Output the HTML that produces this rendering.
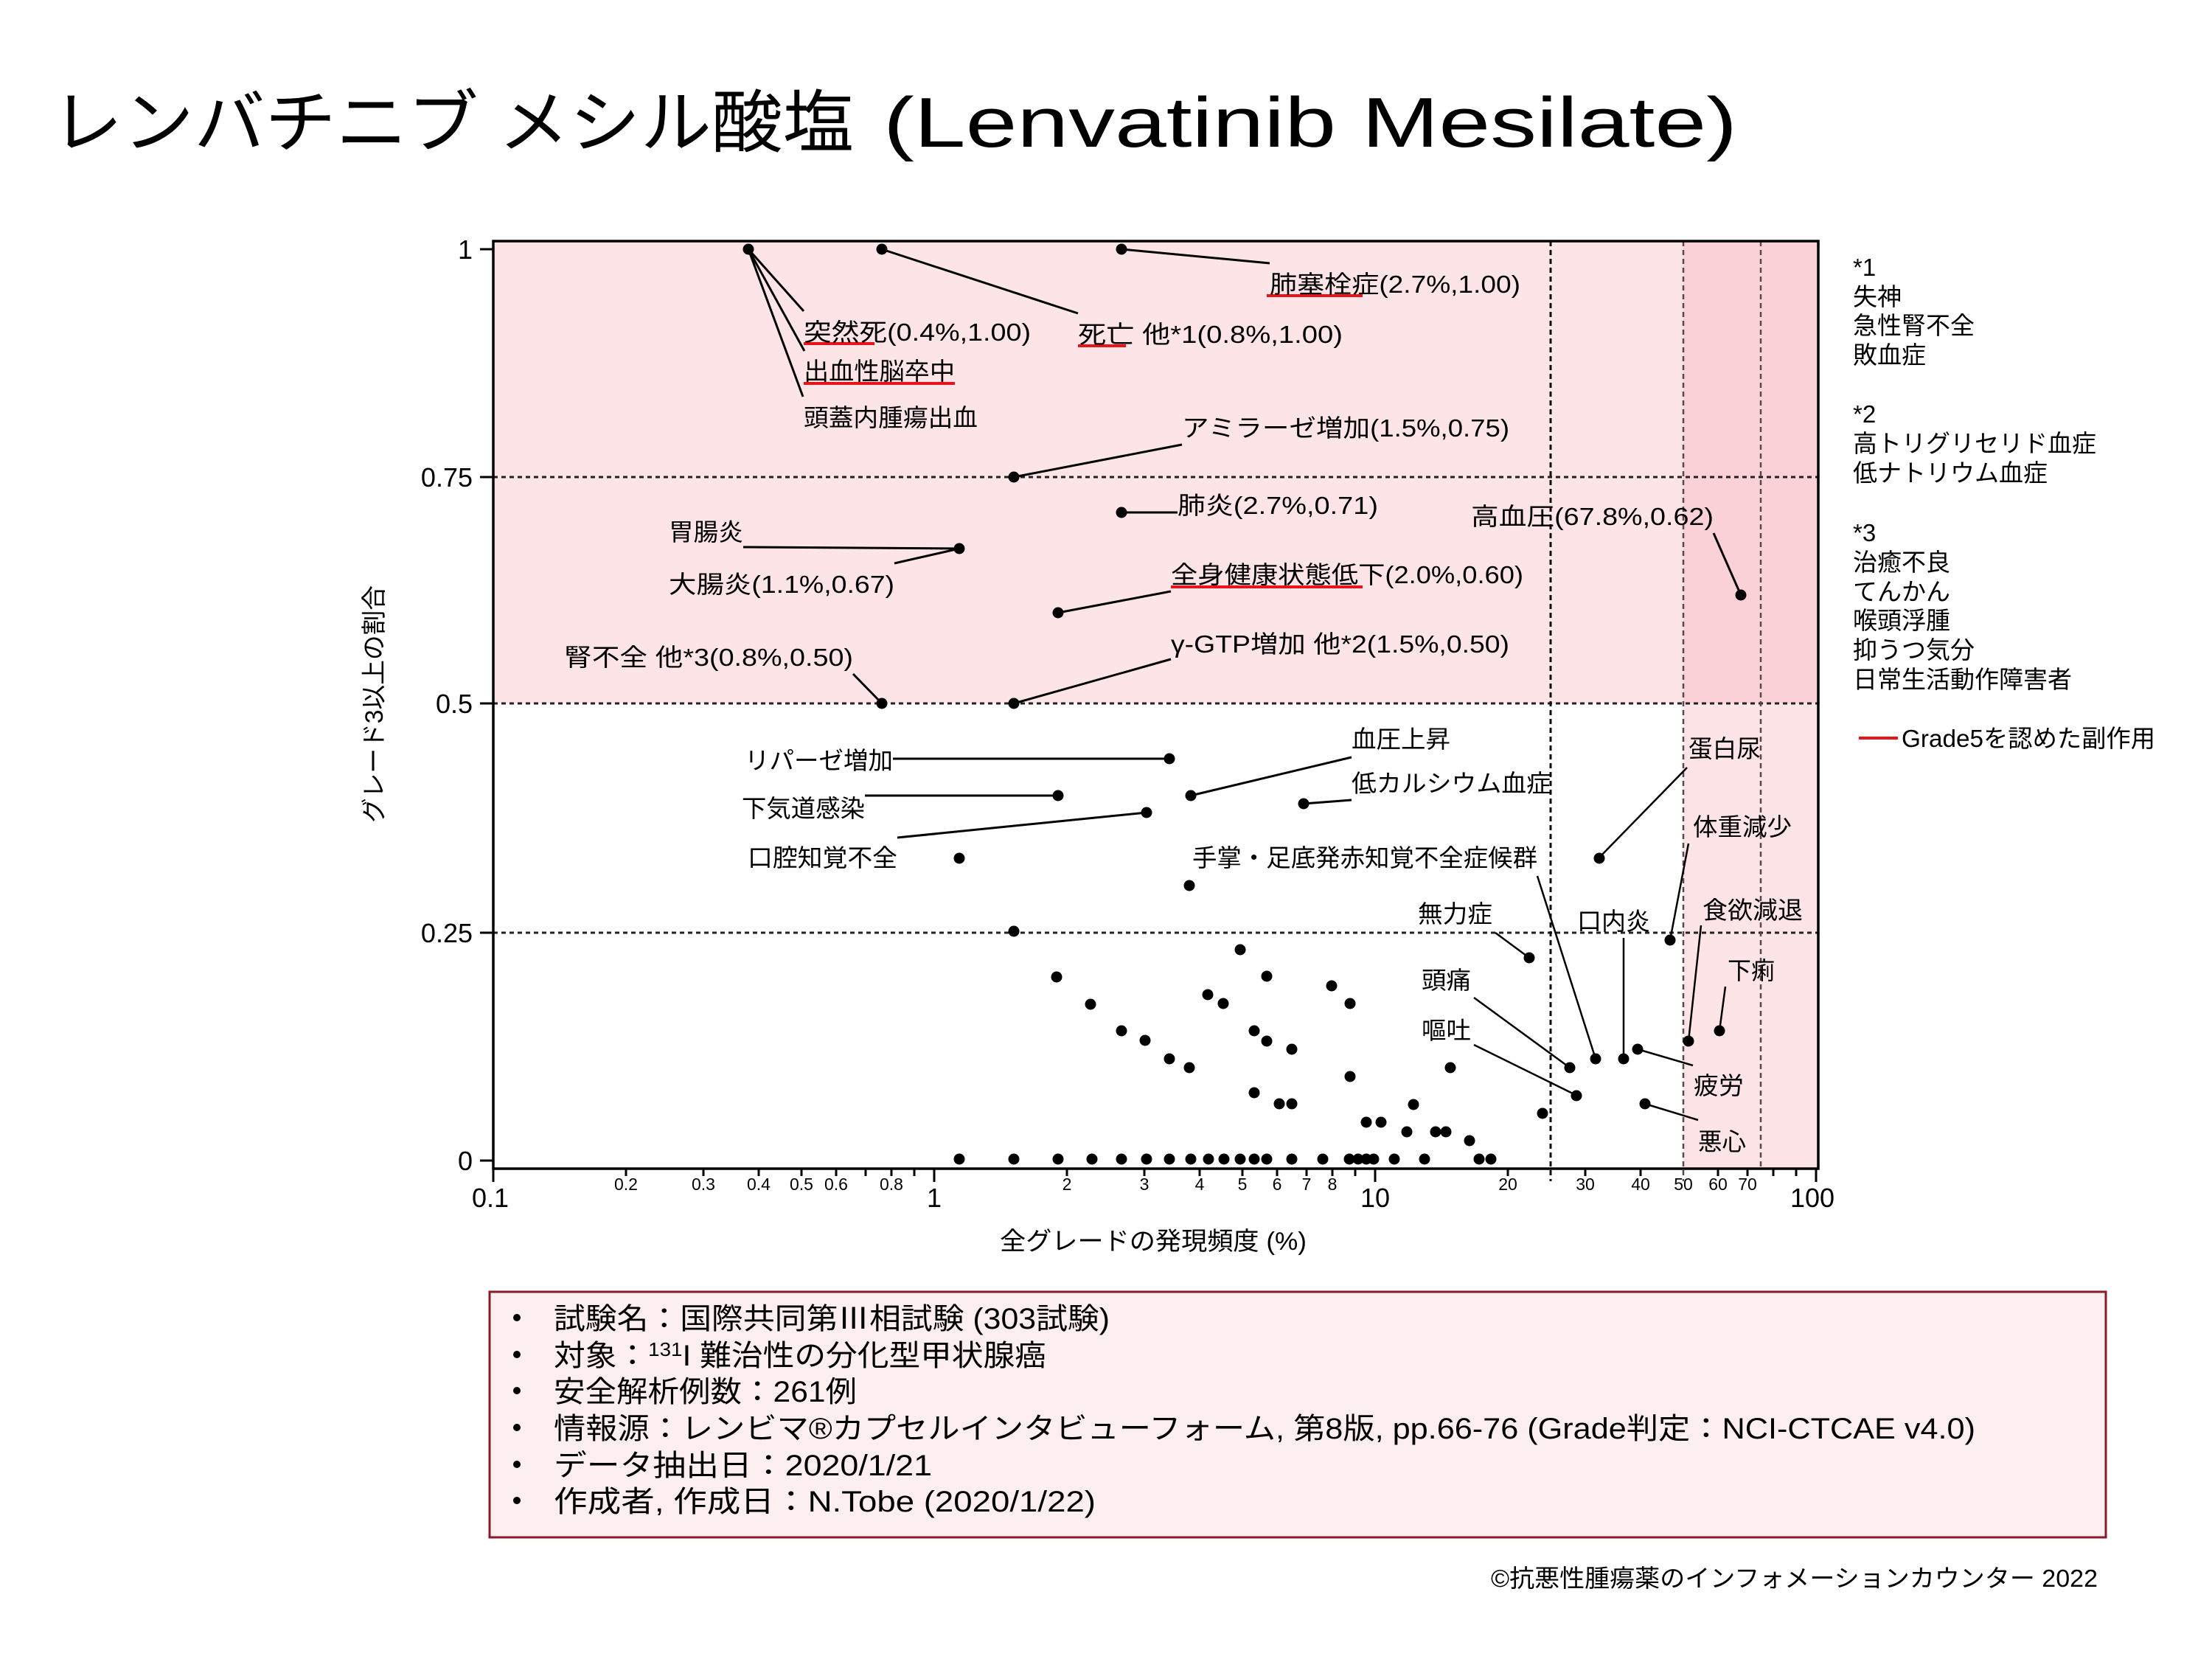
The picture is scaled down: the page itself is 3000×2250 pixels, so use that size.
<!DOCTYPE html>
<html>
<head>
<meta charset="utf-8">
<style>
  html,body{margin:0;padding:0;background:#fff;}
  svg{display:block;}
  text{font-family:"Liberation Sans","Noto Sans CJK JP",sans-serif;fill:#000;}
</style>
</head>
<body>
<svg width="3000" height="2250" viewBox="0 0 3000 2250" xmlns="http://www.w3.org/2000/svg">
  <rect x="0" y="0" width="3000" height="2250" fill="#ffffff"/>

  <!-- Title -->
  <text x="70" y="199" font-size="93" textLength="1088" lengthAdjust="spacingAndGlyphs">レンバチニブ メシル酸塩</text>
  <text x="1198" y="199" font-size="96" textLength="1158" lengthAdjust="spacingAndGlyphs">(Lenvatinib Mesilate)</text>

  <!-- Plot backgrounds -->
  <rect x="669" y="327" width="1614" height="627" fill="#fde4e7"/>
  <rect x="2283" y="327" width="183" height="627" fill="#fbd1d8"/>
  <rect x="2283" y="954" width="183" height="631" fill="#fde4e7"/>

  <!-- Horizontal dotted grid lines -->
  <g stroke="#222" stroke-width="3" stroke-dasharray="6 5">
    <line x1="669" y1="647" x2="2466" y2="647"/>
    <line x1="669" y1="954" x2="2466" y2="954"/>
    <line x1="669" y1="1265" x2="2466" y2="1265"/>
  </g>
  <!-- Vertical dashed lines -->
  <line x1="2103" y1="327" x2="2103" y2="1602" stroke="#111" stroke-width="3" stroke-dasharray="7 5"/>
  <line x1="2283" y1="327" x2="2283" y2="1602" stroke="#5a474c" stroke-width="2.5" stroke-dasharray="7 5"/>
  <line x1="2388" y1="327" x2="2388" y2="1585" stroke="#5a474c" stroke-width="2.5" stroke-dasharray="7 5"/>

  <!-- Frame -->
  <rect x="669" y="327" width="1797" height="1258" fill="none" stroke="#000" stroke-width="3.5"/>

  <!-- Y ticks -->
  <g stroke="#000" stroke-width="3">
    <line x1="651" y1="338" x2="669" y2="338"/>
    <line x1="651" y1="647" x2="669" y2="647"/>
    <line x1="651" y1="954" x2="669" y2="954"/>
    <line x1="651" y1="1265" x2="669" y2="1265"/>
    <line x1="651" y1="1574" x2="669" y2="1574"/>
  </g>
  <g font-size="36" text-anchor="end">
    <text x="641" y="351">1</text>
    <text x="641" y="660">0.75</text>
    <text x="641" y="967">0.5</text>
    <text x="641" y="1278">0.25</text>
    <text x="641" y="1587">0</text>
  </g>

  <!-- X ticks -->
  <g stroke="#000" stroke-width="3">
    <line x1="669" y1="1585" x2="669" y2="1603"/>
    <line x1="1267" y1="1585" x2="1267" y2="1603"/>
    <line x1="1865" y1="1585" x2="1865" y2="1603"/>
    <line x1="2463" y1="1585" x2="2463" y2="1603"/>
    <line x1="849" y1="1585" x2="849" y2="1595"/>
    <line x1="954" y1="1585" x2="954" y2="1595"/>
    <line x1="1029" y1="1585" x2="1029" y2="1595"/>
    <line x1="1087" y1="1585" x2="1087" y2="1595"/>
    <line x1="1134" y1="1585" x2="1134" y2="1595"/>
    <line x1="1174" y1="1585" x2="1174" y2="1595"/>
    <line x1="1209" y1="1585" x2="1209" y2="1595"/>
    <line x1="1240" y1="1585" x2="1240" y2="1595"/>
    <line x1="1447" y1="1585" x2="1447" y2="1595"/>
    <line x1="1552" y1="1585" x2="1552" y2="1595"/>
    <line x1="1627" y1="1585" x2="1627" y2="1595"/>
    <line x1="1685" y1="1585" x2="1685" y2="1595"/>
    <line x1="1732" y1="1585" x2="1732" y2="1595"/>
    <line x1="1772" y1="1585" x2="1772" y2="1595"/>
    <line x1="1807" y1="1585" x2="1807" y2="1595"/>
    <line x1="1838" y1="1585" x2="1838" y2="1595"/>
    <line x1="2045" y1="1585" x2="2045" y2="1595"/>
    <line x1="2150" y1="1585" x2="2150" y2="1595"/>
    <line x1="2225" y1="1585" x2="2225" y2="1595"/>
    <line x1="2330" y1="1585" x2="2330" y2="1595"/>
    <line x1="2370" y1="1585" x2="2370" y2="1595"/>
    <line x1="2405" y1="1585" x2="2405" y2="1595"/>
    <line x1="2436" y1="1585" x2="2436" y2="1595"/>
  </g>
  <g font-size="36" text-anchor="middle">
    <text x="665" y="1637">0.1</text>
    <text x="1267" y="1637">1</text>
    <text x="1865" y="1637">10</text>
    <text x="2458" y="1637">100</text>
  </g>
  <g font-size="23" text-anchor="middle">
    <text x="849" y="1614">0.2</text>
    <text x="954" y="1614">0.3</text>
    <text x="1029" y="1614">0.4</text>
    <text x="1087" y="1614">0.5</text>
    <text x="1134" y="1614">0.6</text>
    <text x="1209" y="1614">0.8</text>
    <text x="1447" y="1614">2</text>
    <text x="1552" y="1614">3</text>
    <text x="1627" y="1614">4</text>
    <text x="1685" y="1614">5</text>
    <text x="1732" y="1614">6</text>
    <text x="1772" y="1614">7</text>
    <text x="1807" y="1614">8</text>
    <text x="2045" y="1614">20</text>
    <text x="2150" y="1614">30</text>
    <text x="2225" y="1614">40</text>
    <text x="2283" y="1614">50</text>
    <text x="2330" y="1614">60</text>
    <text x="2370" y="1614">70</text>
  </g>

  <!-- Axis titles -->
  <text x="1356" y="1695" font-size="34" textLength="416" lengthAdjust="spacingAndGlyphs">全グレードの発現頻度 (%)</text>
  <text transform="translate(519,955) rotate(-90)" x="0" y="0" font-size="34" text-anchor="middle" textLength="322" lengthAdjust="spacingAndGlyphs">グレード3以上の割合</text>

  <!-- Leader lines -->
  <g stroke="#000" stroke-width="3" fill="none">
    <line x1="1521" y1="338" x2="1722" y2="357"/>
    <line x1="1015" y1="338" x2="1090" y2="422"/>
    <line x1="1015" y1="338" x2="1091" y2="476"/>
    <line x1="1015" y1="338" x2="1089" y2="538"/>
    <line x1="1196" y1="338" x2="1462" y2="425"/>
    <line x1="1375" y1="647" x2="1603" y2="603"/>
    <line x1="1521" y1="695" x2="1597" y2="695"/>
    <line x1="2361" y1="807" x2="2324" y2="723"/>
    <line x1="1008" y1="742" x2="1301" y2="744"/>
    <line x1="1213" y1="764" x2="1301" y2="744"/>
    <line x1="1435" y1="831" x2="1588" y2="802"/>
    <line x1="1375" y1="954" x2="1588" y2="894"/>
    <line x1="1157" y1="914" x2="1196" y2="954"/>
    <line x1="1615" y1="1079" x2="1833" y2="1027"/>
    <line x1="1211" y1="1029" x2="1586" y2="1029"/>
    <line x1="1768" y1="1090" x2="1833" y2="1085"/>
    <line x1="1173" y1="1079" x2="1435" y2="1079"/>
    <line x1="1217" y1="1136" x2="1555" y2="1102"/>
  </g>
  <g stroke="#000" stroke-width="2.5" fill="none">
    <line x1="2085" y1="1188" x2="2164" y2="1436"/>
    <line x1="2288" y1="1041" x2="2169" y2="1163"/>
    <line x1="2290" y1="1144" x2="2265" y2="1275"/>
    <line x1="2307" y1="1255" x2="2290" y2="1412"/>
    <line x1="2028" y1="1265" x2="2074" y2="1299"/>
    <line x1="2202" y1="1272" x2="2202" y2="1436"/>
    <line x1="2340" y1="1338" x2="2332" y2="1398"/>
    <line x1="1999" y1="1353" x2="2129" y2="1448"/>
    <line x1="1999" y1="1417" x2="2137" y2="1485"/>
    <line x1="2221" y1="1423" x2="2296" y2="1445"/>
    <line x1="2231" y1="1497" x2="2303" y2="1519"/>
  </g>

  <!-- Red underlines (Grade 5) -->
  <g stroke="#e8141c" stroke-width="4">
    <line x1="1718" y1="401" x2="1848" y2="401"/>
    <line x1="1090" y1="466" x2="1186" y2="466"/>
    <line x1="1462" y1="469" x2="1527" y2="469"/>
    <line x1="1090" y1="520" x2="1295" y2="520"/>
    <line x1="1588" y1="796" x2="1848" y2="796"/>
  </g>

  <!-- Annotation labels -->
  <g font-size="33">
    <text x="1722" y="397" textLength="340" lengthAdjust="spacingAndGlyphs">肺塞栓症(2.7%,1.00)</text>
    <text x="1090" y="462" textLength="308" lengthAdjust="spacingAndGlyphs">突然死(0.4%,1.00)</text>
    <text x="1462" y="465" textLength="359" lengthAdjust="spacingAndGlyphs">死亡 他*1(0.8%,1.00)</text>
    <text x="1090" y="515" textLength="205" lengthAdjust="spacingAndGlyphs">出血性脳卒中</text>
    <text x="1090" y="578" textLength="236" lengthAdjust="spacingAndGlyphs">頭蓋内腫瘍出血</text>
    <text x="1603" y="592" textLength="444" lengthAdjust="spacingAndGlyphs">アミラーゼ増加(1.5%,0.75)</text>
    <text x="1597" y="697" textLength="272" lengthAdjust="spacingAndGlyphs">肺炎(2.7%,0.71)</text>
    <text x="1995" y="712" textLength="329" lengthAdjust="spacingAndGlyphs">高血圧(67.8%,0.62)</text>
    <text x="907" y="733" textLength="101" lengthAdjust="spacingAndGlyphs">胃腸炎</text>
    <text x="907" y="804" textLength="306" lengthAdjust="spacingAndGlyphs">大腸炎(1.1%,0.67)</text>
    <text x="1588" y="791" textLength="478" lengthAdjust="spacingAndGlyphs">全身健康状態低下(2.0%,0.60)</text>
    <text x="1588" y="885" textLength="459" lengthAdjust="spacingAndGlyphs">γ-GTP増加 他*2(1.5%,0.50)</text>
    <text x="765" y="903" textLength="392" lengthAdjust="spacingAndGlyphs">腎不全 他*3(0.8%,0.50)</text>
    <text x="1833" y="1014" textLength="134" lengthAdjust="spacingAndGlyphs">血圧上昇</text>
    <text x="1010" y="1043" textLength="201" lengthAdjust="spacingAndGlyphs">リパーゼ増加</text>
    <text x="1833" y="1074" textLength="271" lengthAdjust="spacingAndGlyphs">低カルシウム血症</text>
    <text x="1006" y="1108" textLength="167" lengthAdjust="spacingAndGlyphs">下気道感染</text>
    <text x="1014" y="1175" textLength="203" lengthAdjust="spacingAndGlyphs">口腔知覚不全</text>
    <text x="1617" y="1175" textLength="468" lengthAdjust="spacingAndGlyphs">手掌・足底発赤知覚不全症候群</text>
    <text x="2290" y="1027" textLength="98" lengthAdjust="spacingAndGlyphs">蛋白尿</text>
    <text x="2296" y="1133" textLength="134" lengthAdjust="spacingAndGlyphs">体重減少</text>
    <text x="2309" y="1246" textLength="136" lengthAdjust="spacingAndGlyphs">食欲減退</text>
    <text x="1923" y="1251" textLength="101" lengthAdjust="spacingAndGlyphs">無力症</text>
    <text x="2139" y="1261" textLength="99" lengthAdjust="spacingAndGlyphs">口内炎</text>
    <text x="2343" y="1328" textLength="64" lengthAdjust="spacingAndGlyphs">下痢</text>
    <text x="1928" y="1341" textLength="67" lengthAdjust="spacingAndGlyphs">頭痛</text>
    <text x="1928" y="1409" textLength="67" lengthAdjust="spacingAndGlyphs">嘔吐</text>
    <text x="2297" y="1484" textLength="68" lengthAdjust="spacingAndGlyphs">疲労</text>
    <text x="2303" y="1560" textLength="65" lengthAdjust="spacingAndGlyphs">悪心</text>
  </g>

  <!-- Data points -->
  <g fill="#000">
    <circle cx="1015" cy="338" r="7.5"/>
    <circle cx="1196" cy="338" r="7.5"/>
    <circle cx="1521" cy="338" r="7.5"/>
    <circle cx="1375" cy="647" r="7.5"/>
    <circle cx="1521" cy="695" r="7.5"/>
    <circle cx="1301" cy="744" r="7.5"/>
    <circle cx="1435" cy="831" r="7.5"/>
    <circle cx="2361" cy="807" r="7.5"/>
    <circle cx="1196" cy="954" r="7.5"/>
    <circle cx="1375" cy="954" r="7.5"/>
    <circle cx="1586" cy="1029" r="7.5"/>
    <circle cx="1435" cy="1079" r="7.5"/>
    <circle cx="1615" cy="1079" r="7.5"/>
    <circle cx="1768" cy="1090" r="7.5"/>
    <circle cx="1555" cy="1102" r="7.5"/>
    <circle cx="1301" cy="1164" r="7.5"/>
    <circle cx="2169" cy="1164" r="7.5"/>
    <circle cx="1613" cy="1201" r="7.5"/>
    <circle cx="1375" cy="1263" r="7.5"/>
    <circle cx="2265" cy="1275" r="7.5"/>
    <circle cx="1682" cy="1288" r="7.5"/>
    <circle cx="2074" cy="1299" r="7.5"/>
    <circle cx="1433" cy="1325" r="7.5"/>
    <circle cx="1718" cy="1324" r="7.5"/>
    <circle cx="1806" cy="1337" r="7.5"/>
    <circle cx="1638" cy="1349" r="7.5"/>
    <circle cx="1479" cy="1362" r="7.5"/>
    <circle cx="1659" cy="1361" r="7.5"/>
    <circle cx="1831" cy="1361" r="7.5"/>
    <circle cx="1521" cy="1398" r="7.5"/>
    <circle cx="1701" cy="1398" r="7.5"/>
    <circle cx="2332" cy="1398" r="7.5"/>
    <circle cx="1553" cy="1411" r="7.5"/>
    <circle cx="1718" cy="1412" r="7.5"/>
    <circle cx="2290" cy="1412" r="7.5"/>
    <circle cx="1752" cy="1423" r="7.5"/>
    <circle cx="2221" cy="1423" r="7.5"/>
    <circle cx="1586" cy="1436" r="7.5"/>
    <circle cx="2164" cy="1436" r="7.5"/>
    <circle cx="2202" cy="1436" r="7.5"/>
    <circle cx="1613" cy="1448" r="7.5"/>
    <circle cx="1967" cy="1448" r="7.5"/>
    <circle cx="2129" cy="1448" r="7.5"/>
    <circle cx="1831" cy="1460" r="7.5"/>
    <circle cx="2138" cy="1486" r="7.5"/>
    <circle cx="1701" cy="1482" r="7.5"/>
    <circle cx="1735" cy="1497" r="7.5"/>
    <circle cx="1752" cy="1497" r="7.5"/>
    <circle cx="1917" cy="1498" r="7.5"/>
    <circle cx="2231" cy="1497" r="7.5"/>
    <circle cx="2092" cy="1510" r="7.5"/>
    <circle cx="1853" cy="1522" r="7.5"/>
    <circle cx="1873" cy="1522" r="7.5"/>
    <circle cx="1908" cy="1535" r="7.5"/>
    <circle cx="1947" cy="1535" r="7.5"/>
    <circle cx="1961" cy="1535" r="7.5"/>
    <circle cx="1993" cy="1547" r="7.5"/>
    <!-- row y=0 -->
    <circle cx="1301" cy="1572" r="7.5"/>
    <circle cx="1375" cy="1572" r="7.5"/>
    <circle cx="1435" cy="1572" r="7.5"/>
    <circle cx="1481" cy="1572" r="7.5"/>
    <circle cx="1521" cy="1572" r="7.5"/>
    <circle cx="1555" cy="1572" r="7.5"/>
    <circle cx="1586" cy="1572" r="7.5"/>
    <circle cx="1615" cy="1572" r="7.5"/>
    <circle cx="1639" cy="1572" r="7.5"/>
    <circle cx="1660" cy="1572" r="7.5"/>
    <circle cx="1682" cy="1572" r="7.5"/>
    <circle cx="1701" cy="1572" r="7.5"/>
    <circle cx="1718" cy="1572" r="7.5"/>
    <circle cx="1752" cy="1572" r="7.5"/>
    <circle cx="1794" cy="1572" r="7.5"/>
    <circle cx="1830" cy="1572" r="7.5"/>
    <circle cx="1842" cy="1572" r="7.5"/>
    <circle cx="1853" cy="1572" r="7.5"/>
    <circle cx="1863" cy="1572" r="7.5"/>
    <circle cx="1891" cy="1572" r="7.5"/>
    <circle cx="1932" cy="1572" r="7.5"/>
    <circle cx="2006" cy="1572" r="7.5"/>
    <circle cx="2022" cy="1572" r="7.5"/>
  </g>

  <!-- Right-side notes -->
  <g font-size="33">
    <text x="2513" y="374">*1</text>
    <text x="2513" y="414">失神</text>
    <text x="2513" y="453">急性腎不全</text>
    <text x="2513" y="493">敗血症</text>
    <text x="2513" y="573">*2</text>
    <text x="2513" y="613">高トリグリセリド血症</text>
    <text x="2513" y="653">低ナトリウム血症</text>
    <text x="2513" y="734">*3</text>
    <text x="2513" y="774">治癒不良</text>
    <text x="2513" y="814">てんかん</text>
    <text x="2513" y="853">喉頭浮腫</text>
    <text x="2513" y="893">抑うつ気分</text>
    <text x="2513" y="933">日常生活動作障害者</text>
  </g>
  <line x1="2521" y1="1001" x2="2574" y2="1001" stroke="#e8141c" stroke-width="4"/>
  <text x="2579" y="1013" font-size="33" textLength="344" lengthAdjust="spacingAndGlyphs">Grade5を認めた副作用</text>

  <!-- Info box -->
  <rect x="664" y="1752" width="2192" height="333" fill="#fdeef0" stroke="#8b1a2b" stroke-width="3"/>
  <g fill="#000">
    <circle cx="701" cy="1787" r="5"/>
    <circle cx="701" cy="1837" r="5"/>
    <circle cx="701" cy="1886" r="5"/>
    <circle cx="701" cy="1936" r="5"/>
    <circle cx="701" cy="1986" r="5"/>
    <circle cx="701" cy="2035" r="5"/>
  </g>
  <g font-size="40">
    <text x="751" y="1802" textLength="754" lengthAdjust="spacingAndGlyphs">試験名：国際共同第Ⅲ相試験 (303試験)</text>
    <text x="751" y="1852" textLength="668" lengthAdjust="spacingAndGlyphs">対象：<tspan font-size="26" dy="-13">131</tspan><tspan dy="13">I 難治性の分化型甲状腺癌</tspan></text>
    <text x="751" y="1901" textLength="411" lengthAdjust="spacingAndGlyphs">安全解析例数：261例</text>
    <text x="751" y="1951" textLength="1928" lengthAdjust="spacingAndGlyphs">情報源：レンビマ®カプセルインタビューフォーム, 第8版, pp.66-76 (Grade判定：NCI-CTCAE v4.0)</text>
    <text x="751" y="2001" textLength="513" lengthAdjust="spacingAndGlyphs">データ抽出日：2020/1/21</text>
    <text x="751" y="2050" textLength="735" lengthAdjust="spacingAndGlyphs">作成者, 作成日：N.Tobe (2020/1/22)</text>
  </g>

  <!-- Copyright -->
  <text x="2022" y="2152" font-size="33" textLength="823" lengthAdjust="spacingAndGlyphs">©抗悪性腫瘍薬のインフォメーションカウンター  2022</text>
</svg>
</body>
</html>
